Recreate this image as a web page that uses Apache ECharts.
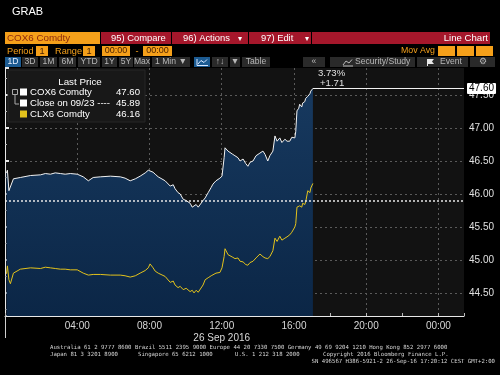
<!DOCTYPE html>
<html><head><meta charset="utf-8">
<script src="https://cdn.jsdelivr.net/npm/echarts@6/dist/echarts.min.js"></script>
<style>html,body{margin:0;padding:0;background:#000;}#c{width:500px;height:375px;}</style>
</head><body><div id="c"></div><script>
// minutes since 26 Sep 2016 00:00
const times = [
  5,8,13,18,28,51,85,118,134,151,
  167,184,200,217,240,260,277,283,293,317,
  350,383,399,416,433,449,466,476,482,492,
  499,509,515,532,549,559,565,575,582,592,
  602,615,622,628,635,642,648,658,665,675,
  685,691,701,714,721,728,731,741,747,757,
  764,774,781,791,800,807,814,824,834,840,
  847,857,864,873,880,890,897,904,913,920,
  930,937,946,953,956,963,966,970,976,979,
  986,989,996,999,1006,1013,1016,1019,1023
];
const cox6 = [
  46.32,46.36,46.05,46.02,46.23,46.25,46.28,46.29,46.31,46.30,
  46.32,46.31,46.30,46.31,46.30,46.26,46.20,46.17,46.25,46.26,
  46.27,46.26,46.24,46.20,46.23,46.27,46.32,46.36,46.39,46.33,
  46.30,46.26,46.27,46.20,46.12,46.14,46.08,46.02,46.00,45.92,
  45.90,45.86,45.80,45.77,45.84,45.80,45.82,45.90,45.94,46.02,
  46.10,46.15,46.20,46.24,46.27,46.55,46.70,46.65,46.66,46.60,
  46.58,46.55,46.50,46.53,46.46,46.42,46.48,46.50,46.58,46.61,
  46.62,46.65,46.60,46.50,46.58,46.65,46.88,46.80,46.85,46.78,
  46.83,46.80,46.80,46.86,46.88,46.85,46.95,47.26,47.30,47.36,
  47.32,47.38,47.40,47.45,47.48,47.52,47.56,47.57,47.60
];
const clx6 = [
  44.79,44.91,44.70,44.64,44.80,44.86,44.88,44.87,44.89,44.88,
  44.87,44.86,44.86,44.85,44.85,44.80,44.77,44.76,44.78,44.78,
  44.77,44.77,44.76,44.74,44.76,44.80,44.84,44.88,44.94,44.88,
  44.83,44.80,44.80,44.75,44.66,44.68,44.62,44.58,44.60,44.55,
  44.57,44.52,44.54,44.50,44.54,44.51,44.52,44.62,44.70,44.73,
  44.76,44.78,44.80,44.81,44.88,45.05,45.17,45.08,45.06,45.04,
  45.02,45.03,44.98,44.97,44.93,44.92,44.96,44.98,45.03,45.06,
  45.09,45.05,45.03,45.02,45.05,45.14,45.33,45.28,45.36,45.30,
  45.33,45.35,45.38,45.42,45.44,45.50,45.55,45.80,45.79,45.82,
  45.80,45.86,45.84,45.88,46.05,46.02,46.09,46.10,46.16
];
const closePrev = 45.89;
const closeLabel = 'Close on 09/23';
const seriesNames = ['COX6 Comdty', 'CLX6 Comdty'];
const dateLabel = '26 Sep 2016';
const X_MAX = 1525;
const Y_MIN = 44.15, Y_MAX = 47.91;

const F = "'Liberation Sans', Arial, sans-serif";
const M = "'DejaVu Sans Mono', 'Liberation Mono', monospace";
function T(x, y, text, o) {
  o = o || {};
  const al = o.align || 'left';
  return { type: 'text', x: x, y: y, silent: true, z: 20,
    style: { text: text, fill: o.fill || '#fff', font: (o.size || 10) + 'px ' + (o.family || F),
      align: al, textAlign: al, verticalAlign: 'middle', textVerticalAlign: 'middle' } };
}
function R(x, y, w, h, fill, stroke) {
  return { type: 'rect', shape: { x: x, y: y, width: w, height: h }, silent: true, z: 10,
    style: { fill: fill, stroke: stroke || null, lineWidth: stroke ? 1 : 0 } };
}
function L(pts, stroke, w) {
  return { type: 'polyline', shape: { points: pts }, silent: true, z: 21, style: { stroke: stroke, lineWidth: w || 1, fill: null } };
}

const lastT = times[times.length - 1];
const lastV = cox6[cox6.length - 1];
const lastY = clx6[clx6.length - 1];
const chg = lastV - closePrev;
const pct = (chg / closePrev * 100).toFixed(2) + '%';

const ORANGE = '#f5a01a', RED = '#a5172b', BTN = '#2a2a2a', BLUE = '#1c5b92';
const g = [];
g.push(T(12, 12, 'GRAB', { size: 11 }));
// row 1
g.push(R(5, 32, 95, 12, ORANGE));
g.push(T(7, 38.5, 'COX6 Comdty', { size: 9.8, fill: '#8e2a0e' }));
g.push(R(101, 32, 70, 12, RED));
g.push(T(111, 38.5, '95) Compare', { size: 9.4 }));
g.push(R(172, 32, 76, 12, RED));
g.push(T(183, 38.5, '96) Actions', { size: 9.4 }));
g.push(T(238, 38.5, '\u25be', { size: 8 }));
g.push(R(249, 32, 62, 12, RED));
g.push(T(261, 38.5, '97) Edit', { size: 9.4 }));
g.push(T(305, 38.5, '\u25be', { size: 8 }));
g.push(R(312, 32, 178, 12, RED));
g.push(T(488, 38.5, 'Line Chart', { size: 9.6, align: 'right' }));
// row 2
g.push(T(7, 51, 'Period', { size: 9.2, fill: ORANGE }));
g.push(R(36, 46, 12, 10, ORANGE)); g.push(T(42, 51, '1', { size: 9.2, fill: '#4a2000', align: 'center' }));
g.push(T(55, 51, 'Range', { size: 9.2, fill: ORANGE }));
g.push(R(83, 46, 12, 10, ORANGE)); g.push(T(89, 51, '1', { size: 9.2, fill: '#4a2000', align: 'center' }));
g.push(R(102, 46, 28, 10, ORANGE)); g.push(T(116, 51, '00:00', { size: 9, fill: '#4a2000', align: 'center' }));
g.push(T(137, 51, '-', { size: 9.2, fill: ORANGE, align: 'center' }));
g.push(R(143, 46, 29, 10, ORANGE)); g.push(T(157.5, 51, '00:00', { size: 9, fill: '#4a2000', align: 'center' }));
g.push(T(435, 51, 'Mov Avg', { size: 8.8, fill: ORANGE, align: 'right' }));
g.push(R(438, 46, 17, 10, ORANGE)); g.push(R(457, 46, 17, 10, ORANGE)); g.push(R(476, 46, 17, 10, ORANGE));
// row 3 buttons
const btns = [[5,21,'1D',BLUE],[22,38,'3D'],[40,57,'1M'],[59,76,'6M'],[78,100,'YTD'],[102,117,'1Y'],[119,133,'5Y'],[134,150,'Max'],[152,190,'1 Min \u25bc'],[194,210,'',BLUE],[212,228,'\u2191\u2193'],[230,240,'\u25bc'],[242,270,'Table'],[303,325,'\u00ab'],[330,415,''],[417,468,''],[470,495,'\u2699']];
btns.forEach(function (b) {
  g.push(R(b[0], 57, b[1] - b[0], 10, b[3] || BTN));
  if (b[2]) g.push(T((b[0] + b[1]) / 2, 62, b[2], { size: 8.6, fill: b[3] ? '#e8f0ff' : '#b8b8b8', align: 'center' }));
});
g.push(T(355, 62, 'Security/Study', { size: 8.6, fill: '#b8b8b8' }));
g.push(T(440, 62, 'Event', { size: 8.6, fill: '#b8b8b8' }));
g.push(L([[197, 59], [197, 65.5], [208, 65.5]], '#d8e8ff', 1));
g.push(L([[198, 64], [201, 60.5], [204, 62.5], [207, 59.5]], '#d8e8ff', 1));
g.push(L([[343, 65], [346, 61], [349, 63], [352, 59.5]], '#b8b8b8', 1));
g.push(L([[343, 66], [353, 66]], '#b8b8b8', 1));
g.push({ type: 'polygon', shape: { points: [[427, 59], [434, 59], [432, 61.5], [434, 64], [428, 64], [428, 66], [427, 66]] }, silent: true, z: 21, style: { fill: '#e8e8e8' } });
// legend box
g.push(R(8, 70, 137, 52, '#181818', '#262626'));
g.push(T(80, 82, 'Last Price', { size: 9.8, align: 'center' }));
g.push(R(12.5, 89.5, 5, 5, null, '#aaa'));
g.push(L([[15, 94.5], [15, 104], [19, 104]], '#aaa', 1));
g.push(R(20, 88.5, 7, 7, '#ffffff'));
g.push(R(20, 99.5, 7, 7, '#ffffff'));
g.push(R(20, 110.5, 7, 7, '#e3c21c'));
g.push(T(30, 92, seriesNames[0], { size: 9.6 }));
g.push(T(140, 92, lastV.toFixed(2), { size: 9.6, align: 'right' }));
g.push(T(30, 103, closeLabel + ' ----', { size: 9.6 }));
g.push(T(140, 103, closePrev.toFixed(2), { size: 9.6, align: 'right' }));
g.push(T(30, 114, seriesNames[1], { size: 9.6 }));
g.push(T(140, 114, lastY.toFixed(2), { size: 9.6, align: 'right' }));
// change labels
g.push(T(318, 73, pct, { size: 9.6, fill: '#e0e0e0' }));
g.push(T(320, 83.5, (chg >= 0 ? '+' : '') + chg.toFixed(2), { size: 9.6, fill: '#e0e0e0' }));
// left border below axis
g.push(L([[5.5, 316], [5.5, 338]], '#cfcfcf', 1));
// footer
const FS = 5.65, FC = '#d6d6d6';
g.push(T(50, 348, 'Australia 61 2 9777 8600 Brazil 5511 2395 9000 Europe 44 20 7330 7500 Germany 49 69 9204 1210 Hong Kong 852 2977 6000', { size: FS, family: M, fill: FC }));
g.push(T(50, 355, 'Japan 81 3 3201 8900', { size: FS, family: M, fill: FC }));
g.push(T(138, 355, 'Singapore 65 6212 1000', { size: FS, family: M, fill: FC }));
g.push(T(235, 355, 'U.S. 1 212 318 2000', { size: FS, family: M, fill: FC }));
g.push(T(323, 355, 'Copyright 2016 Bloomberg Finance L.P.', { size: FS, family: M, fill: FC }));
g.push(T(495, 362, 'SN 496567 H386-5921-2 26-Sep-16 17:20:12 CEST GMT+2:00', { size: FS, family: M, fill: FC, align: 'right' }));

function hhmm(v) {
  const h = Math.floor(v / 60) % 24, m = v % 60;
  return (h < 10 ? '0' : '') + h + ':' + (m < 10 ? '0' : '') + m;
}

const chart = echarts.init(document.getElementById('c'), null, { renderer: 'canvas' });
chart.setOption({
  backgroundColor: '#000',
  animation: false,
  grid: { left: 5, right: 36, top: 68, bottom: 59, show: true, backgroundColor: '#121212', borderWidth: 0 },
  xAxis: {
    type: 'value', min: 0, max: X_MAX, interval: 240,
    axisLine: { show: true, lineStyle: { color: '#e8e8e8', width: 1 } },
    axisTick: { show: true, inside: true, length: 3, lineStyle: { color: '#bbb' } },
    minorTick: { show: true, splitNumber: 2, length: 3, lineStyle: { color: '#bbb' } },
    axisLabel: { color: '#d8d8d8', fontSize: 10, fontFamily: F, margin: 4, lineHeight: 12,
      showMinLabel: false, showMaxLabel: false,
      formatter: function (v) {
        if (v <= 0 || v % 240 !== 0) return '';
        return v === 720 ? hhmm(v) + '\n' + dateLabel : hhmm(v);
      } },
    splitLine: { show: true, showMaxLine: false, lineStyle: { color: '#5a5a5a', type: [2, 3] } }
  },
  yAxis: {
    type: 'value', position: 'right', min: Y_MIN, max: Y_MAX, splitNumber: 7,
    axisLine: { show: true, lineStyle: { color: '#e8e8e8' } },
    axisTick: { show: true, length: 4, lineStyle: { color: '#e8e8e8', width: 2 } },
    minorTick: { show: true, splitNumber: 2, length: 2, lineStyle: { color: '#bbb' } },
    axisLabel: { color: '#e0e0e0', fontSize: 10, fontFamily: F, margin: 5, showMinLabel: false, showMaxLabel: false,
      formatter: function (v) { return v.toFixed(2); } },
    splitLine: { show: true, showMinLine: false, showMaxLine: false, lineStyle: { color: '#5a5a5a', type: [2, 3] } }
  },
  series: [
    {
      type: 'line', name: seriesNames[0], data: times.map(function (t, i) { return [t, cox6[i]]; }),
      showSymbol: false, symbol: 'none', z: 3,
      lineStyle: { color: '#f2f2f2', width: 1 },
      areaStyle: { origin: 'start', opacity: 1, color: new echarts.graphic.LinearGradient(0, 0, 0, 1, [
        { offset: 0, color: '#17395f' }, { offset: 1, color: '#0b2646' }]) },
      markLine: {
        symbol: 'none', silent: true, animation: false,
        data: [
          { yAxis: closePrev, lineStyle: { color: '#e6e6e6', type: [2, 2], width: 1.5 }, label: { show: false } },
          [
            { coord: [lastT, lastV], lineStyle: { color: '#f2f2f2', type: 'solid', width: 1 },
              label: { show: true, position: 'end', distance: 3, formatter: lastV.toFixed(2), backgroundColor: '#ffffff',
                color: '#000', padding: [1, 2, 0, 2], fontSize: 10, fontFamily: F, borderRadius: 1 } },
            { coord: [X_MAX, lastV] }
          ]
        ]
      }
    },
    {
      type: 'line', name: seriesNames[1], data: times.map(function (t, i) { return [t, clx6[i]]; }),
      showSymbol: false, symbol: 'none', z: 4,
      lineStyle: { color: '#e3c21c', width: 1 },
      markLine: {
        symbol: 'none', silent: true, animation: false,
        data: [[
          { coord: [lastT, lastY], lineStyle: { opacity: 0 },
            label: { show: true, position: 'end', distance: 3, formatter: lastY.toFixed(2), backgroundColor: '#f0c814',
              color: '#222', padding: [1, 2, 0, 2], fontSize: 10, fontFamily: F, borderRadius: 1 } },
          { coord: [X_MAX, lastY] }
        ]]
      }
    }
  ],
  graphic: { elements: g }
});
</script></body></html>
